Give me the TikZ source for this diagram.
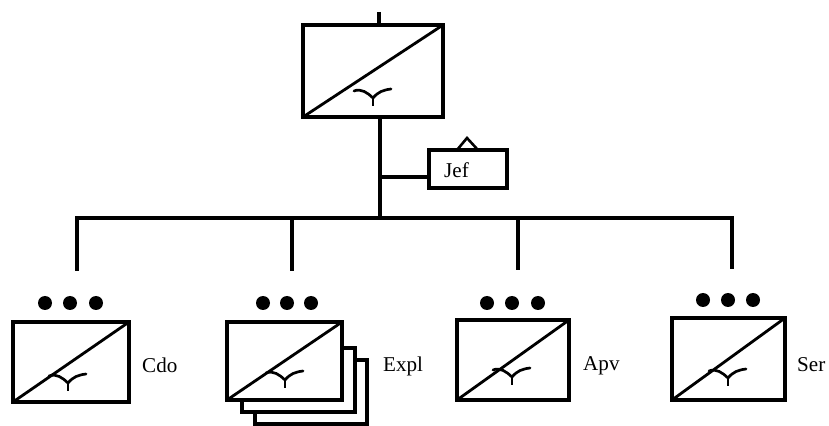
\documentclass[tikz,border=0pt]{standalone}
\usepackage{fontspec}
\setmainfont{Liberation Serif}
\def\ux{0.03cm}
\begin{document}
\begin{tikzpicture}[x=0.03cm, y=-0.03cm,
  frame/.style={draw, line width=2.8pt, fill=white, inner sep=0pt, outer sep=0pt},
  wire/.style={line width=2.8pt},
  slash/.style={line width=2.4pt},
  dot/.style={circle, fill=black, inner sep=0pt, minimum size=14*\ux},
  lbl/.style={font=\fontsize{18}{21}\selectfont, anchor=west, inner sep=0pt},
  gull/.pic={
    \draw[line width=2.3pt, line cap=round]
      (-19,-7) .. controls (-12,-10) and (-5,-5) .. (0,0)
      .. controls (5,-6) and (10,-8) .. (18,-9);
    \draw[line width=2.3pt] (0,-1) -- (0,8);
  }]
\useasboundingbox (0,0) rectangle (829,426);

% ---- head unit ----
\node[frame, minimum width=140*\ux, minimum height=92*\ux] (top) at (373,71) {};
\draw[slash] (top.south west) -- (top.north east);
\pic at (373,98) {gull};

\coordinate (feed) at (379,12);
\coordinate (hub) at (380,218);
\draw[wire] (feed) -- (feed |- top.north);
\draw[wire] (hub |- top.south) -- (hub);

% ---- staff box ----
\node[frame, minimum width=78*\ux, minimum height=38*\ux] (jef) at (468,169) {};
\node[lbl] (jeftxt) at (444,170) {Jef};
\coordinate (jefjoin) at (380,177);
\draw[wire] (jefjoin) -- (jefjoin -| jef.west);
\draw[line width=2.2pt, line join=miter] (457,150) -- (467,138) -- (478,150);

% ---- bus and drops ----
\coordinate (busL) at (77,218);
\coordinate (busR) at (732,218);
\coordinate (dropA) at (77,271);
\coordinate (busB) at (292,218);
\coordinate (dropB) at (292,271);
\coordinate (busC) at (518,218);
\coordinate (dropC) at (518,270);
\coordinate (dropD) at (732,269);
\draw[wire, line join=miter] (dropA) -- (busL) -- (busR) -- (dropD);
\draw[wire] (busB) -- (dropB);
\draw[wire] (busC) -- (dropC);

% ---- Cdo ----
\node[frame, minimum width=116*\ux, minimum height=80*\ux] (cdo) at (71,362) {};
\draw[slash] (cdo.south west) -- (cdo.north east);
\pic at (68,383) {gull};
\foreach \x/\n in {45/1,70/2,96/3} \node[dot] (cdod\n) at (\x,303) {};
\node[lbl] (cdotxt) at (142,365) {Cdo};

% ---- Expl (stacked) ----
\node[frame, minimum width=112*\ux, minimum height=64*\ux] (expl3) at (311,392) {};
\node[frame, minimum width=113*\ux, minimum height=64*\ux] (expl2) at (298.5,380) {};
\node[frame, minimum width=115*\ux, minimum height=78*\ux] (expl) at (284.5,361) {};
\draw[slash] (expl.south west) -- (expl.north east);
\pic at (285,380) {gull};
\foreach \x/\n in {263/1,287/2,311/3} \node[dot] (expld\n) at (\x,303) {};
\node[lbl] (expltxt) at (383,366) {Expl};

% ---- Apv ----
\node[frame, minimum width=112*\ux, minimum height=80*\ux] (apv) at (513,360) {};
\draw[slash] (apv.south west) -- (apv.north east);
\pic at (512,377) {gull};
\foreach \x/\n in {487/1,512/2,538/3} \node[dot] (apvd\n) at (\x,303) {};
\node[lbl] (apvtxt) at (583,366) {Apv};

% ---- Ser ----
\node[frame, minimum width=113*\ux, minimum height=82*\ux] (ser) at (728.5,359) {};
\draw[slash] (ser.south west) -- (ser.north east);
\pic at (728,378) {gull};
\foreach \x/\n in {703/1,728/2,753/3} \node[dot] (serd\n) at (\x,300) {};
\node[lbl] (sertxt) at (797,365) {Ser};
\end{tikzpicture}
\end{document}
